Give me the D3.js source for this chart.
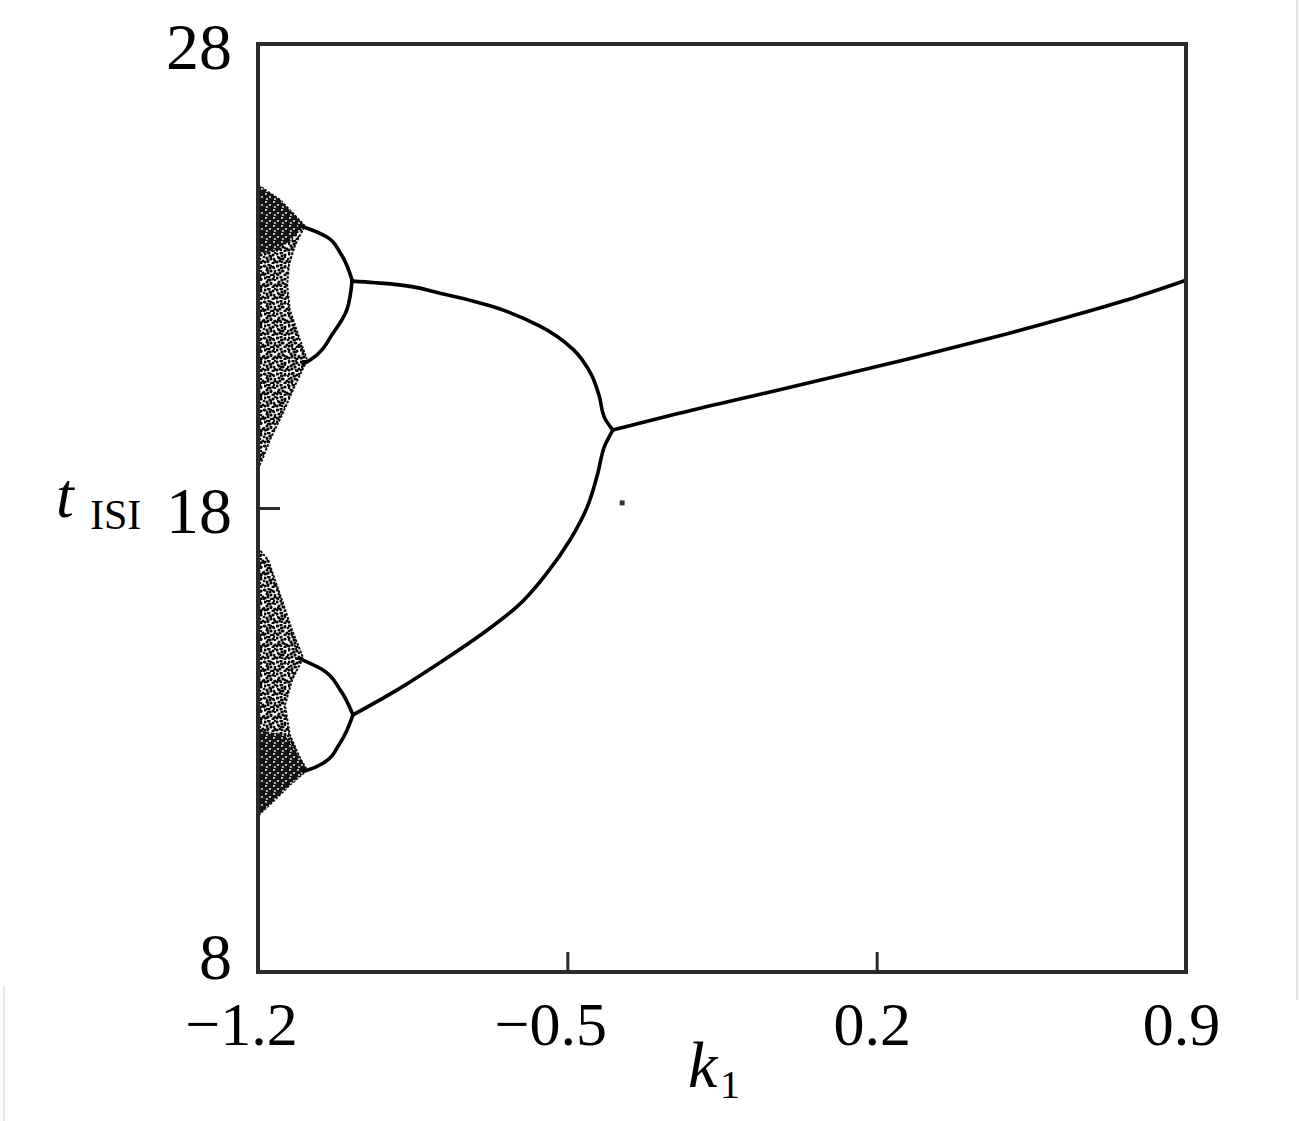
<!DOCTYPE html>
<html>
<head>
<meta charset="utf-8">
<script src="https://cdn.jsdelivr.net/npm/d3@7/dist/d3.min.js"></script>
<style>
  html, body { margin: 0; padding: 0; background: #fff; }
  svg { display: block; }
  text { font-family: "Liberation Serif", "Times New Roman", Times, serif; fill: #000; }
</style>
</head>
<body>
<svg id="chart" width="1299" height="1121"></svg>
<script>
// ---------- data ----------
const xTicks = [-1.2, -0.5, 0.2, 0.9];
const yTicks = [8, 18, 28];
const xTickLabels = ["\u22121.2", "\u22120.5", "0.2", "0.9"];
const yTickLabels = ["8", "18", "28"];

// period-1 branch [k1, tISI]
const period1 = [[-0.397, 19.68], [-0.252, 20.03], [-0.078, 20.42], [0.097, 20.81], [0.271, 21.21],
                 [0.445, 21.63], [0.619, 22.08], [0.791, 22.56], [0.900, 22.91]];
// period-2 branches
const period2Upper = [[-0.987, 22.89], [-0.901, 22.83], [-0.788, 22.63], [-0.675, 22.36], [-0.562, 21.92],
                      [-0.487, 21.42], [-0.446, 20.88], [-0.428, 20.42], [-0.415, 19.93], [-0.397, 19.68]];
const period2Lower = [[-0.397, 19.68], [-0.415, 19.35], [-0.431, 18.75], [-0.455, 18.02], [-0.494, 17.31],
                      [-0.546, 16.60], [-0.612, 15.89], [-0.691, 15.30], [-0.788, 14.67], [-0.885, 14.08],
                      [-0.985, 13.54]];
// period-4 branches
const period4UpperA = [[-0.987, 22.91], [-1.014, 23.50], [-1.044, 23.84], [-1.089, 24.03], [-1.105, 24.08]];
const period4UpperB = [[-0.987, 22.91], [-0.999, 22.27], [-1.030, 21.77], [-1.082, 21.19], [-1.098, 21.10]];
const period4LowerA = [[-0.985, 13.54], [-1.014, 14.08], [-1.053, 14.51], [-1.098, 14.72], [-1.105, 14.75]];
const period4LowerB = [[-0.985, 13.54], [-1.014, 12.94], [-1.053, 12.50], [-1.089, 12.35], [-1.098, 12.33]];
// chaotic bands (outline)
const chaosUpper = [[-1.2, 24.96], [-1.150, 24.64], [-1.094, 24.08], [-1.116, 23.67], [-1.130, 23.24],
                    [-1.134, 22.81], [-1.128, 22.27], [-1.109, 21.73], [-1.089, 21.19], [-1.116, 20.65],
                    [-1.146, 20.00], [-1.173, 19.47], [-1.191, 19.03], [-1.2, 18.86]];
const chaosUpperDense = [[-1.2, 24.96], [-1.150, 24.64], [-1.094, 24.08], [-1.123, 23.78], [-1.162, 23.56],
                         [-1.2, 23.45]];
const chaosLower = [[-1.2, 17.14], [-1.177, 16.88], [-1.150, 16.13], [-1.123, 15.37], [-1.098, 14.77],
                    [-1.123, 14.29], [-1.139, 13.75], [-1.128, 13.11], [-1.105, 12.61], [-1.089, 12.35],
                    [-1.128, 12.03], [-1.162, 11.71], [-1.191, 11.45], [-1.2, 11.36]];
const chaosLowerDense = [[-1.2, 13.22], [-1.139, 13.11], [-1.105, 12.61], [-1.089, 12.35], [-1.128, 12.03],
                         [-1.162, 11.71], [-1.191, 11.45], [-1.2, 11.36]];
const strayPoints = [[-0.376, 18.11]];

// ---------- chart ----------
const svg = d3.select("#chart");
svg.append("rect").attr("width", 1299).attr("height", 1121).attr("fill", "#fff");

const x = d3.scaleLinear().domain([-1.2, 0.9]).range([258, 1186]);
const y = d3.scaleLinear().domain([8, 28]).range([972, 44]);

// faint scan edges
svg.append("line").attr("x1", 1297).attr("x2", 1297).attr("y1", 0).attr("y2", 1000)
   .attr("stroke", "#e2e2e2").attr("stroke-width", 2);
svg.append("line").attr("x1", 4).attr("x2", 4).attr("y1", 985).attr("y2", 1121)
   .attr("stroke", "#e6e6e6").attr("stroke-width", 2);

// stipple patterns
const defs = svg.append("defs");
const pA = defs.append("pattern").attr("id", "stipA").attr("patternUnits", "userSpaceOnUse")
  .attr("width", 12).attr("height", 12);
[[1,2],[5,1],[9,3],[3,6],[7,7],[1,10],[11,9],[6,4],[9,11],[4,9]].forEach(d =>
  pA.append("circle").attr("cx", d[0]).attr("cy", d[1]).attr("r", 1.6).attr("fill", "#000"));
const pB = defs.append("pattern").attr("id", "stipB").attr("patternUnits", "userSpaceOnUse")
  .attr("width", 7).attr("height", 9);
[[2,1],[5,5],[1,7]].forEach(d =>
  pB.append("circle").attr("cx", d[0]).attr("cy", d[1]).attr("r", 1.3).attr("fill", "#111"));
const pD = defs.append("pattern").attr("id", "stipD").attr("patternUnits", "userSpaceOnUse")
  .attr("width", 8).attr("height", 8);
pD.append("rect").attr("width", 8).attr("height", 8).attr("fill", "#151515");
[[2,2],[6,5],[3,7]].forEach(d =>
  pD.append("circle").attr("cx", d[0]).attr("cy", d[1]).attr("r", 0.9).attr("fill", "#fff"));

const poly = d3.line().x(d => x(d[0])).y(d => y(d[1])).curve(d3.curveLinearClosed);
const g = svg.append("g");
[chaosUpper, chaosLower].forEach(band => {
  g.append("path").attr("d", poly(band)).attr("fill", "url(#stipA)");
  g.append("path").attr("d", poly(band)).attr("fill", "url(#stipB)");
  g.append("path").attr("d", poly(band)).attr("fill", "none").attr("stroke", "#111")
   .attr("stroke-width", 2).attr("stroke-dasharray", "2.5 1.5");
});
[chaosUpperDense, chaosLowerDense].forEach(band => {
  g.append("path").attr("d", poly(band)).attr("fill", "url(#stipD)");
});

// branches
const lineY = d3.line().x(d => x(d[0])).y(d => y(d[1])).curve(d3.curveMonotoneY);
const line1 = d3.line().x(d => x(d[0])).y(d => y(d[1])).curve(d3.curveMonotoneX);
g.append("path").attr("d", line1(period1)).attr("fill", "none")
  .attr("stroke", "#000").attr("stroke-width", 3.6).attr("stroke-linecap", "round");
[period2Upper, period2Lower, period4UpperA, period4UpperB, period4LowerA, period4LowerB]
  .forEach(b => g.append("path").attr("d", lineY(b)).attr("fill", "none")
    .attr("stroke", "#000").attr("stroke-width", 3.6).attr("stroke-linecap", "round"));

g.selectAll(".stray").data(strayPoints).enter().append("rect")
  .attr("x", d => x(d[0]) - 2.5).attr("y", d => y(d[1]) - 2.5)
  .attr("width", 5).attr("height", 5).attr("fill", "#333");

// frame
svg.append("rect").attr("x", 258).attr("y", 44).attr("width", 928).attr("height", 928)
  .attr("fill", "none").attr("stroke", "#2a2a2a").attr("stroke-width", 4);

// axes
const xAxis = svg.append("g").attr("transform", "translate(0,972)")
  .call(d3.axisBottom(x).tickValues(xTicks).tickSize(-20).tickPadding(29)
        .tickFormat((d, i) => xTickLabels[i]));
xAxis.select(".domain").remove();
xAxis.selectAll(".tick line").attr("stroke", "#2a2a2a").attr("stroke-width", 3);
xAxis.selectAll(".tick text").attr("font-size", 62).attr("fill", "#000")
  .attr("font-family", "'Liberation Serif','Times New Roman',serif")
  .attr("dx", d => d < 0 ? -17 : -5);

const yAxis = svg.append("g").attr("transform", "translate(258,0)")
  .call(d3.axisLeft(y).tickValues(yTicks).tickSize(-22).tickPadding(26)
        .tickFormat((d, i) => yTickLabels[i]));
yAxis.select(".domain").remove();
yAxis.selectAll(".tick line").attr("stroke", "#2a2a2a").attr("stroke-width", 3);
yAxis.selectAll(".tick text").attr("font-size", 66).attr("fill", "#000")
  .attr("font-family", "'Liberation Serif','Times New Roman',serif")
  .attr("dy", null).attr("y", d => d === 8 ? 6 : 24);

// axis titles
const yt = svg.append("text").attr("x", 56).attr("y", 517).attr("font-size", 64);
yt.append("tspan").attr("font-style", "italic").text("t");
svg.append("text").attr("x", 90).attr("y", 529).attr("font-size", 42).text("ISI");

const xt = svg.append("text").attr("x", 688).attr("y", 1087).attr("font-size", 66);
xt.append("tspan").attr("font-style", "italic").text("k");
svg.append("text").attr("x", 720).attr("y", 1098).attr("font-size", 40).text("1");
</script>
</body>
</html>
